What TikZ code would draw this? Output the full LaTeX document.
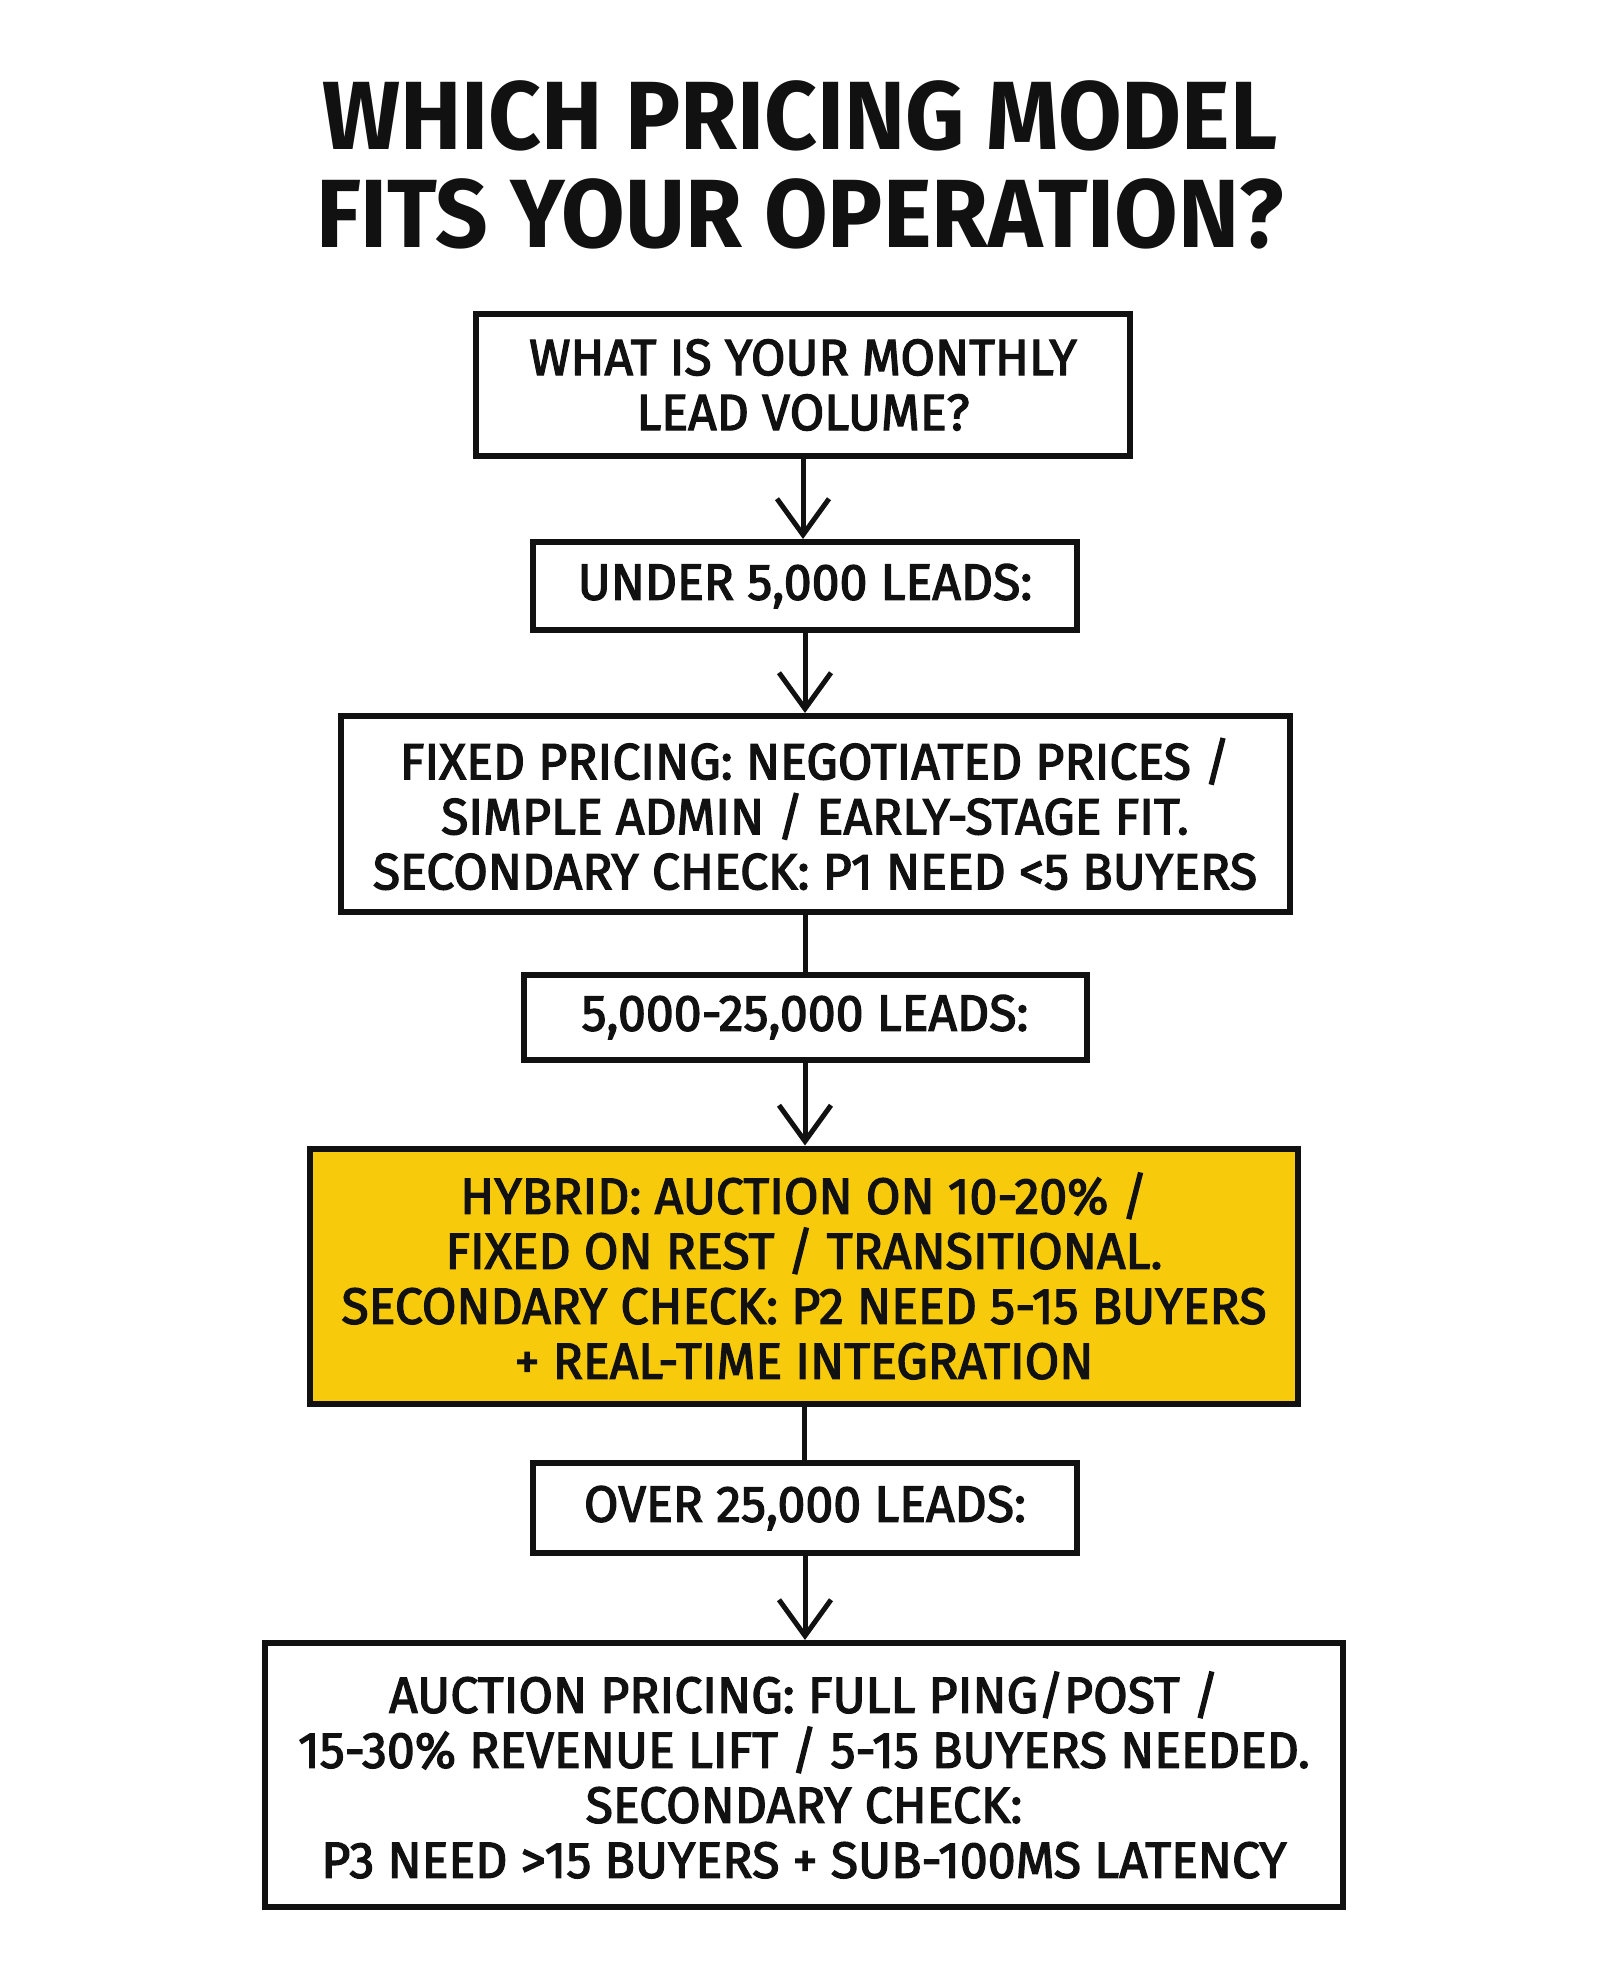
\documentclass[tikz,border=0pt]{standalone}
\usepackage{fontspec}
\usetikzlibrary{arrows.meta}
\newfontfamily\titlefont[FakeStretch=0.95]{Fira Sans}
\newfontfamily\boxfont[FakeStretch=0.98,FakeBold=2.5]{Fira Sans}
\definecolor{hlyellow}{RGB}{248,202,12}
\definecolor{ink}{RGB}{17,17,17}
\tikzset{
  box/.style={draw=ink, line width=6pt, fill=white, minimum width=#1, inner sep=0pt, align=center,
    font=\boxfont\fontsize{51}{55}\selectfont, text=ink},
  conn/.style={draw=ink, line width=5pt},
  arr/.style={conn, -{Straight Barb[length=36pt,width=52pt,line width=5pt]}},
}
\begin{document}
\begin{tikzpicture}[x=1pt,y=-1pt]
\useasboundingbox[fill=white] (0,0) rectangle (1600,1986);
\node[font=\titlefont\bfseries\fontsize{97}{98}\selectfont, text=ink, align=center] (title) at (800,165)
  {WHICH PRICING MODEL\\FITS YOUR OPERATION?};
\node[box=654pt, minimum height=142pt] (b1) at (803,385) {WHAT IS YOUR MONTHLY\\LEAD VOLUME?};
\node[box=544pt, minimum height=88pt] (b2) at (805,586) {UNDER 5,000 LEADS:};
\node[box=949pt, minimum height=196pt] (b3) at (815,814) {FIXED PRICING: NEGOTIATED PRICES /\\SIMPLE ADMIN / EARLY-STAGE FIT.\\SECONDARY CHECK: P1 NEED <5 BUYERS};
\node[box=563pt, minimum height=85pt] (b4) at (805,1017) {5,000-25,000 LEADS:};
\node[box=988pt, minimum height=255pt, fill=hlyellow] (b5) at (804,1276) {HYBRID: AUCTION ON 10-20\% /\\FIXED ON REST / TRANSITIONAL.\\SECONDARY CHECK: P2 NEED 5-15 BUYERS\\+ REAL-TIME INTEGRATION};
\node[box=544pt, minimum height=90pt] (b6) at (805,1508) {OVER 25,000 LEADS:};
\node[box=1078pt, minimum height=264pt] (b7) at (804,1775) {AUCTION PRICING: FULL PING/POST /\\15-30\% REVENUE LIFT / 5-15 BUYERS NEEDED.\\SECONDARY CHECK:\\P3 NEED >15 BUYERS + SUB-100MS LATENCY};
\draw[arr] (b1.south) -- (b1.south |- b2.north);
\draw[arr] (b2.south) -- (b2.south |- b3.north);
\draw[conn] (b2.south |- b3.south) -- (b2.south |- b4.north);
\draw[arr] (b4.south) -- (b4.south |- b5.north);
\draw[conn] (b5.south) -- (b5.south |- b6.north);
\draw[arr] (b6.south) -- (b6.south |- b7.north);
\end{tikzpicture}
\end{document}
